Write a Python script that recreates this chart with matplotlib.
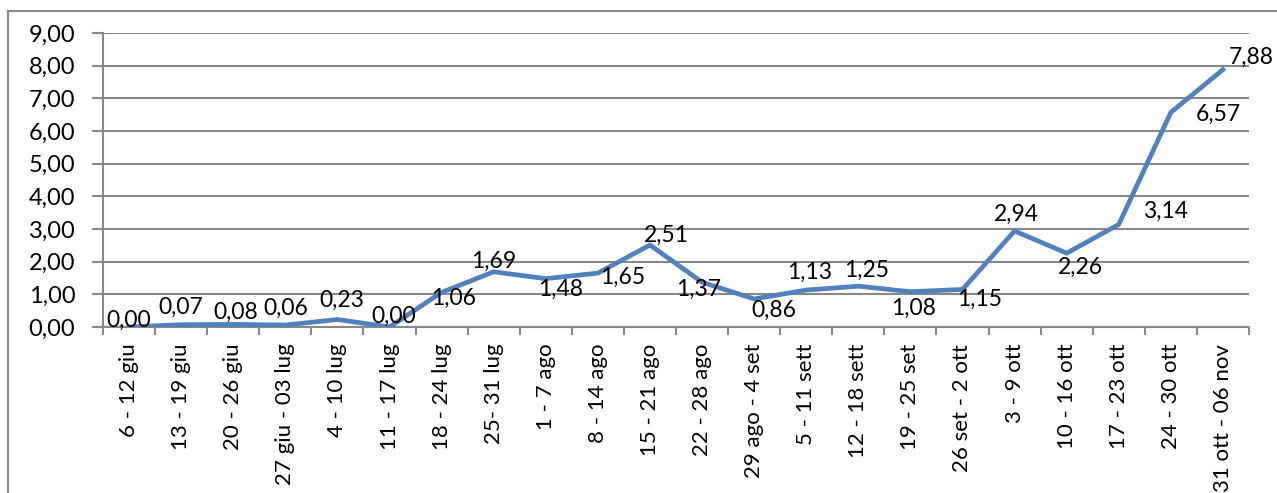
import matplotlib
matplotlib.use('Agg')
import matplotlib.pyplot as plt
from matplotlib.lines import Line2D
import numpy as np

plt.rcParams['font.family'] = ['Lato', 'DejaVu Sans']

weeks = ['6 - 12 giu', '13 - 19 giu', '20 - 26 giu', '27 giu - 03 lug', '4 - 10 lug',
         '11 - 17 lug', '18 - 24 lug', '25- 31 lug', '1 - 7 ago', '8 - 14 ago',
         '15 - 21 ago', '22 - 28 ago', '29 ago - 4 set', '5 - 11 sett', '12 - 18 sett',
         '19 - 25 set', '26 set - 2 ott', '3 - 9 ott', '10 - 16 ott', '17 - 23 ott',
         '24 - 30 ott', '31 ott - 06 nov']
values = [0.00, 0.07, 0.08, 0.06, 0.23, 0.00, 1.06, 1.69, 1.48, 1.65, 2.51, 1.37,
          0.86, 1.13, 1.25, 1.08, 1.15, 2.94, 2.26, 3.14, 6.57, 7.88]
# label offsets in pixels (dx, dy), like excel's auto placement
label_dx = [0, 0, 3, 0, 4, 4, 12, 0, 15, 25, 16, -3, 20, 3, 8, 3, 17, 2, 14, 47, 47, 28]
label_dy = [7, 17, 12, 17, 19, 11, -6, 10, -11, -4, 10, -7, -11, 18, 16, -17, -10, 17, -14, 13, -2, 12]

fig = plt.figure(figsize=(12.77, 4.93), dpi=100)
ax = fig.add_axes([103/1277, 1-327/493, 1146/1277, 294/493])

x = np.arange(len(values))
ax.plot(x, values, color='#4F81BD', lw=3.4, solid_joinstyle='round', zorder=3)

for i, v in enumerate(values):
    ax.annotate(f'{v:.2f}'.replace('.', ','), (x[i], v),
                xytext=(label_dx[i], label_dy[i]), textcoords='offset pixels',
                ha='center', va='center', fontsize=16.5, color='black', zorder=4)

ax.set_xlim(-0.5, len(values) - 0.5)
ax.set_ylim(0, 9)
ax.set_yticks(np.arange(0, 10, 1))
ax.set_yticklabels([f'{t:.2f}'.replace('.', ',') for t in range(10)], fontsize=17)
ax.yaxis.grid(True, color='#888888', lw=1.5)
ax.set_axisbelow(True)

ax.set_xticks(x)
ax.set_xticklabels(weeks, rotation=90, fontsize=16)
ax.set_xticks(np.arange(-0.5, len(values), 1), minor=True)
ax.tick_params(axis='x', which='major', length=0, pad=12)
ax.tick_params(axis='x', which='minor', length=6, width=1.5, color='#888888')
ax.tick_params(axis='y', length=8, width=1.5, color='#888888', pad=12)

for s in ['top', 'right']:
    ax.spines[s].set_visible(False)
for s in ['left', 'bottom']:
    ax.spines[s].set_color('#888888')
    ax.spines[s].set_linewidth(1.5)

# outer chart border
fig.add_artist(Line2D([8/1277, 8/1277], [0, 1-11/493], color='#888888', lw=1.5))
fig.add_artist(Line2D([8/1277, 1], [1-11/493, 1-11/493], color='#888888', lw=1.5))

fig.savefig('out.png', dpi=100)
